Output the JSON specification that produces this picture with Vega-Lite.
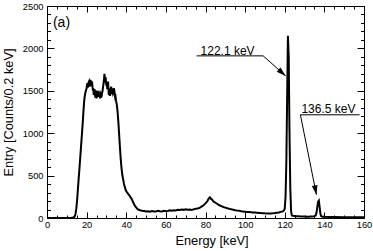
{
  "$schema": "https://vega.github.io/schema/vega-lite/v6.json",
  "autosize": {"type": "none"},
  "width": 317,
  "height": 212,
  "padding": {"left": 47, "top": 6, "right": 9, "bottom": 33},
  "background": "white",
  "config": {
    "view": {"stroke": "black", "strokeWidth": 1},
    "font": "Liberation Sans",
    "axis": {"labelFont": "Liberation Sans", "titleFont": "Liberation Sans", "labelColor": "black", "titleColor": "black", "tickColor": "black", "tickWidth": 1, "grid": false, "domain": false, "titleFontWeight": "normal"}
  },
  "datasets": {
    "spectrum": [
      {"energy": 0, "entry": 0}, {"energy": 4, "entry": 0}, {"energy": 8, "entry": 0}, {"energy": 11, "entry": 0},
      {"energy": 12.5, "entry": 2}, {"energy": 13.3, "entry": 6}, {"energy": 14.0, "entry": 20}, {"energy": 14.4, "entry": 50},
      {"energy": 14.8, "entry": 110}, {"energy": 15.2, "entry": 210}, {"energy": 15.6, "entry": 340}, {"energy": 16.0, "entry": 470},
      {"energy": 16.4, "entry": 590}, {"energy": 16.8, "entry": 720}, {"energy": 17.2, "entry": 850}, {"energy": 17.6, "entry": 980},
      {"energy": 18.0, "entry": 1110}, {"energy": 18.4, "entry": 1260}, {"energy": 18.8, "entry": 1390}, {"energy": 19.2, "entry": 1460},
      {"energy": 19.6, "entry": 1500}, {"energy": 20.0, "entry": 1530}, {"energy": 20.2, "entry": 1570}, {"energy": 20.4, "entry": 1590}, {"energy": 20.6, "entry": 1540}, {"energy": 20.8, "entry": 1560},
      {"energy": 21.0, "entry": 1600}, {"energy": 21.2, "entry": 1610}, {"energy": 21.4, "entry": 1560}, {"energy": 21.6, "entry": 1580}, {"energy": 21.8, "entry": 1550}, {"energy": 22.0, "entry": 1630}, {"energy": 22.2, "entry": 1590}, {"energy": 22.4, "entry": 1560},
      {"energy": 22.6, "entry": 1610}, {"energy": 22.8, "entry": 1590}, {"energy": 23.0, "entry": 1540}, {"energy": 23.2, "entry": 1500}, {"energy": 23.4, "entry": 1530}, {"energy": 23.6, "entry": 1450}, {"energy": 23.8, "entry": 1490}, {"energy": 24.0, "entry": 1520},
      {"energy": 24.2, "entry": 1460}, {"energy": 24.4, "entry": 1420}, {"energy": 24.6, "entry": 1500}, {"energy": 24.8, "entry": 1480}, {"energy": 25.0, "entry": 1410}, {"energy": 25.2, "entry": 1440}, {"energy": 25.4, "entry": 1480}, {"energy": 25.6, "entry": 1500},
      {"energy": 25.8, "entry": 1450}, {"energy": 26.0, "entry": 1430}, {"energy": 26.2, "entry": 1490}, {"energy": 26.4, "entry": 1470}, {"energy": 26.6, "entry": 1440}, {"energy": 26.8, "entry": 1410}, {"energy": 27.0, "entry": 1470}, {"energy": 27.2, "entry": 1460},
      {"energy": 27.4, "entry": 1420}, {"energy": 27.6, "entry": 1440}, {"energy": 27.8, "entry": 1480}, {"energy": 28.0, "entry": 1490}, {"energy": 28.2, "entry": 1530}, {"energy": 28.4, "entry": 1560}, {"energy": 28.6, "entry": 1600}, {"energy": 28.8, "entry": 1640},
      {"energy": 29.0, "entry": 1700}, {"energy": 29.2, "entry": 1650}, {"energy": 29.4, "entry": 1600}, {"energy": 29.6, "entry": 1660}, {"energy": 29.8, "entry": 1590}, {"energy": 30.0, "entry": 1560},
      {"energy": 30.2, "entry": 1600}, {"energy": 30.4, "entry": 1520}, {"energy": 30.6, "entry": 1560}, {"energy": 30.8, "entry": 1610}, {"energy": 31.0, "entry": 1530}, {"energy": 31.2, "entry": 1450}, {"energy": 31.4, "entry": 1500}, {"energy": 31.6, "entry": 1530},
      {"energy": 31.8, "entry": 1440}, {"energy": 32.0, "entry": 1470}, {"energy": 32.2, "entry": 1520}, {"energy": 32.4, "entry": 1550}, {"energy": 32.6, "entry": 1490}, {"energy": 32.8, "entry": 1460}, {"energy": 33.0, "entry": 1510}, {"energy": 33.2, "entry": 1530},
      {"energy": 33.4, "entry": 1470}, {"energy": 33.6, "entry": 1480}, {"energy": 33.8, "entry": 1530}, {"energy": 34.0, "entry": 1500}, {"energy": 34.2, "entry": 1450}, {"energy": 34.4, "entry": 1420}, {"energy": 34.6, "entry": 1430}, {"energy": 34.8, "entry": 1390},
      {"energy": 35.2, "entry": 1340}, {"energy": 35.6, "entry": 1260}, {"energy": 36.0, "entry": 1140}, {"energy": 36.4, "entry": 990},
      {"energy": 36.8, "entry": 840}, {"energy": 37.2, "entry": 700}, {"energy": 37.6, "entry": 590}, {"energy": 38.0, "entry": 510},
      {"energy": 38.4, "entry": 460}, {"energy": 38.8, "entry": 410}, {"energy": 39.2, "entry": 370}, {"energy": 39.6, "entry": 340},
      {"energy": 40.0, "entry": 315}, {"energy": 40.5, "entry": 300}, {"energy": 41.0, "entry": 282}, {"energy": 41.5, "entry": 270},
      {"energy": 42.0, "entry": 250}, {"energy": 42.5, "entry": 235}, {"energy": 43.0, "entry": 210}, {"energy": 43.5, "entry": 185},
      {"energy": 44.0, "entry": 160}, {"energy": 44.5, "entry": 140}, {"energy": 45.0, "entry": 125}, {"energy": 45.5, "entry": 110},
      {"energy": 46.0, "entry": 100}, {"energy": 47, "entry": 92}, {"energy": 48, "entry": 85}, {"energy": 49, "entry": 82},
      {"energy": 50, "entry": 78}, {"energy": 51, "entry": 80}, {"energy": 52, "entry": 75}, {"energy": 53, "entry": 82},
      {"energy": 54, "entry": 78}, {"energy": 55, "entry": 76}, {"energy": 56, "entry": 84}, {"energy": 57, "entry": 80},
      {"energy": 58, "entry": 78}, {"energy": 59, "entry": 86}, {"energy": 60, "entry": 80}, {"energy": 61, "entry": 83},
      {"energy": 62, "entry": 90}, {"energy": 63, "entry": 86}, {"energy": 64, "entry": 92}, {"energy": 65, "entry": 88},
      {"energy": 66, "entry": 96}, {"energy": 67, "entry": 94}, {"energy": 68, "entry": 100}, {"energy": 69, "entry": 96},
      {"energy": 70, "entry": 104}, {"energy": 71, "entry": 98}, {"energy": 72, "entry": 100}, {"energy": 73, "entry": 95},
      {"energy": 74, "entry": 102}, {"energy": 75, "entry": 108}, {"energy": 76, "entry": 112}, {"energy": 77, "entry": 120},
      {"energy": 78, "entry": 135}, {"energy": 79, "entry": 150}, {"energy": 80, "entry": 172}, {"energy": 81, "entry": 200},
      {"energy": 81.6, "entry": 230}, {"energy": 82.2, "entry": 245}, {"energy": 82.8, "entry": 225}, {"energy": 83.4, "entry": 215},
      {"energy": 84, "entry": 195}, {"energy": 85, "entry": 180}, {"energy": 86, "entry": 165}, {"energy": 87, "entry": 150},
      {"energy": 88, "entry": 140}, {"energy": 89, "entry": 130}, {"energy": 90, "entry": 122}, {"energy": 91, "entry": 115},
      {"energy": 92, "entry": 108}, {"energy": 93, "entry": 102}, {"energy": 94, "entry": 98}, {"energy": 95, "entry": 92},
      {"energy": 96, "entry": 88}, {"energy": 97, "entry": 85}, {"energy": 98, "entry": 80}, {"energy": 99, "entry": 78},
      {"energy": 100, "entry": 75}, {"energy": 101, "entry": 72}, {"energy": 102, "entry": 70}, {"energy": 103, "entry": 68},
      {"energy": 104, "entry": 66}, {"energy": 105, "entry": 64}, {"energy": 106, "entry": 62}, {"energy": 107, "entry": 60},
      {"energy": 108, "entry": 58}, {"energy": 109, "entry": 57}, {"energy": 110, "entry": 55}, {"energy": 111, "entry": 54},
      {"energy": 112, "entry": 53}, {"energy": 113, "entry": 54}, {"energy": 114, "entry": 55}, {"energy": 115, "entry": 58},
      {"energy": 116, "entry": 62}, {"energy": 117, "entry": 66}, {"energy": 118, "entry": 72}, {"energy": 119, "entry": 78},
      {"energy": 119.6, "entry": 90}, {"energy": 120.0, "entry": 110}, {"energy": 120.4, "entry": 250}, {"energy": 120.8, "entry": 650},
      {"energy": 121.2, "entry": 1400}, {"energy": 121.6, "entry": 2150}, {"energy": 122.0, "entry": 1900}, {"energy": 122.4, "entry": 1000},
      {"energy": 122.8, "entry": 350}, {"energy": 123.2, "entry": 80}, {"energy": 123.6, "entry": 30}, {"energy": 124.2, "entry": 25},
      {"energy": 125, "entry": 24}, {"energy": 126, "entry": 22}, {"energy": 127, "entry": 20}, {"energy": 128, "entry": 18},
      {"energy": 129, "entry": 18}, {"energy": 130, "entry": 17}, {"energy": 131, "entry": 16}, {"energy": 132, "entry": 16},
      {"energy": 133, "entry": 17}, {"energy": 134, "entry": 18}, {"energy": 135, "entry": 22}, {"energy": 135.6, "entry": 30},
      {"energy": 136.0, "entry": 60}, {"energy": 136.4, "entry": 120}, {"energy": 136.8, "entry": 190}, {"energy": 137.2, "entry": 205},
      {"energy": 137.6, "entry": 130}, {"energy": 138.0, "entry": 50}, {"energy": 138.4, "entry": 22}, {"energy": 139, "entry": 16},
      {"energy": 140, "entry": 14}, {"energy": 142, "entry": 12}, {"energy": 145, "entry": 12}, {"energy": 150, "entry": 10},
      {"energy": 155, "entry": 9}, {"energy": 160, "entry": 8}
    ],
    "leaders": [
      {"x": 75.5, "y": 1912, "x2": 109.1, "y2": 1912},
      {"x": 109.1, "y": 1912, "x2": 120.5, "y2": 1676},
      {"x": 127.9, "y": 1217, "x2": 157.8, "y2": 1217},
      {"x": 127.9, "y": 1217, "x2": 136.0, "y2": 274}
    ],
    "tips": [
      {"peak": "122.1 keV", "x": 120.5, "y": 1676},
      {"peak": "136.5 keV", "x": 136.0, "y": 274}
    ],
    "labels": [
      {"x": 77.5, "y": 1923, "text": "122.1 keV"},
      {"x": 128.4, "y": 1237, "text": "136.5 keV"}
    ],
    "panel": [
      {"x": 3.0, "y": 2247, "text": "(a)"}
    ]
  },
  "resolve": {"axis": {"x": "independent", "y": "independent"}},
  "layer": [
    {
      "data": {"name": "spectrum"},
      "mark": {"type": "line", "color": "black", "strokeWidth": 2, "strokeJoin": "miter"},
      "encoding": {
        "x": {"field": "energy", "type": "quantitative", "scale": {"domain": [0, 160], "nice": false, "zero": false},
              "axis": {"orient": "bottom", "values": [0, 20, 40, 60, 80, 100, 120, 140, 160], "format": "d", "ticks": false, "labelPadding": 2, "labelFontSize": 9.3, "labelFlush": false,
                       "title": "Energy [keV]", "titleFontSize": 12.8, "titleX": 164.5, "titleY": 26, "titleBaseline": "alphabetic", "titleAlign": "center", "titleAnchor": "middle"}},
        "y": {"field": "entry", "type": "quantitative", "scale": {"domain": [0, 2500], "nice": false, "zero": true},
              "axis": {"orient": "left", "values": [0, 500, 1000, 1500, 2000, 2500], "format": "d", "ticks": false, "labelPadding": 4, "labelFontSize": 9.3, "labelFlush": false,
                       "title": "Entry [Counts/0.2 keV]", "titleFontSize": 12.8, "titleX": -34.5, "titleY": 106, "titleAngle": -90, "titleBaseline": "alphabetic", "titleAlign": "center", "titleAnchor": "middle"}}
      }
    },
    {
      "data": {"name": "leaders"},
      "mark": {"type": "rule", "color": "black", "strokeWidth": 1},
      "encoding": {
        "x": {"field": "x", "type": "quantitative", "scale": {"domain": [0, 160], "nice": false, "zero": false},
              "axis": {"orient": "bottom", "values": [0, 20, 40, 60, 80, 100, 120, 140, 160], "labels": false, "tickSize": 6, "offset": -6, "title": null}},
        "y": {"field": "y", "type": "quantitative", "scale": {"domain": [0, 2500], "nice": false},
              "axis": {"orient": "left", "values": [0, 500, 1000, 1500, 2000, 2500], "labels": false, "tickSize": 7, "offset": -7, "title": null}},
        "x2": {"field": "x2"},
        "y2": {"field": "y2"}
      }
    },
    {
      "data": {"name": "tips"},
      "transform": [{"filter": "datum.peak === '122.1 keV'"}],
      "mark": {"type": "point", "shape": "M0,0L-2,-0.6L-2,0.6Z", "filled": true, "color": "black", "opacity": 1, "size": 90, "angle": 41},
      "encoding": {
        "x": {"field": "x", "type": "quantitative", "scale": {"domain": [0, 160], "nice": false, "zero": false},
              "axis": {"orient": "bottom", "values": [5, 10, 15, 25, 30, 35, 45, 50, 55, 65, 70, 75, 85, 90, 95, 105, 110, 115, 125, 130, 135, 145, 150, 155], "labels": false, "tickSize": 3, "offset": -3, "title": null}},
        "y": {"field": "y", "type": "quantitative", "scale": {"domain": [0, 2500], "nice": false},
              "axis": {"orient": "left", "values": [100, 200, 300, 400, 600, 700, 800, 900, 1100, 1200, 1300, 1400, 1600, 1700, 1800, 1900, 2100, 2200, 2300, 2400], "labels": false, "tickSize": 3.5, "offset": -3.5, "title": null}}
      }
    },
    {
      "data": {"name": "tips"},
      "transform": [{"filter": "datum.peak === '136.5 keV'"}],
      "mark": {"type": "point", "shape": "M0,0L-2,-0.6L-2,0.6Z", "filled": true, "color": "black", "opacity": 1, "size": 90, "angle": 79},
      "encoding": {
        "x": {"field": "x", "type": "quantitative", "scale": {"domain": [0, 160], "nice": false, "zero": false},
              "axis": {"orient": "top", "values": [0, 20, 40, 60, 80, 100, 120, 140, 160], "labels": false, "tickSize": 6, "offset": -6, "title": null}},
        "y": {"field": "y", "type": "quantitative", "scale": {"domain": [0, 2500], "nice": false},
              "axis": {"orient": "right", "values": [0, 500, 1000, 1500, 2000, 2500], "labels": false, "tickSize": 7, "offset": -7, "title": null}}
      }
    },
    {
      "data": {"name": "labels"},
      "mark": {"type": "text", "align": "left", "baseline": "alphabetic", "fontSize": 12, "font": "Liberation Sans", "color": "black"},
      "encoding": {
        "x": {"field": "x", "type": "quantitative", "scale": {"domain": [0, 160], "nice": false, "zero": false},
              "axis": {"orient": "top", "values": [5, 10, 15, 25, 30, 35, 45, 50, 55, 65, 70, 75, 85, 90, 95, 105, 110, 115, 125, 130, 135, 145, 150, 155], "labels": false, "tickSize": 3, "offset": -3, "title": null}},
        "y": {"field": "y", "type": "quantitative", "scale": {"domain": [0, 2500], "nice": false},
              "axis": {"orient": "right", "values": [100, 200, 300, 400, 600, 700, 800, 900, 1100, 1200, 1300, 1400, 1600, 1700, 1800, 1900, 2100, 2200, 2300, 2400], "labels": false, "tickSize": 3.5, "offset": -3.5, "title": null}},
        "text": {"field": "text"}
      }
    },
    {
      "data": {"name": "panel"},
      "mark": {"type": "text", "align": "left", "baseline": "alphabetic", "fontSize": 14, "font": "Liberation Sans", "color": "black"},
      "encoding": {
        "x": {"field": "x", "type": "quantitative", "scale": {"domain": [0, 160], "nice": false, "zero": false}, "axis": null},
        "y": {"field": "y", "type": "quantitative", "scale": {"domain": [0, 2500], "nice": false}, "axis": null},
        "text": {"field": "text"}
      }
    }
  ]
}
